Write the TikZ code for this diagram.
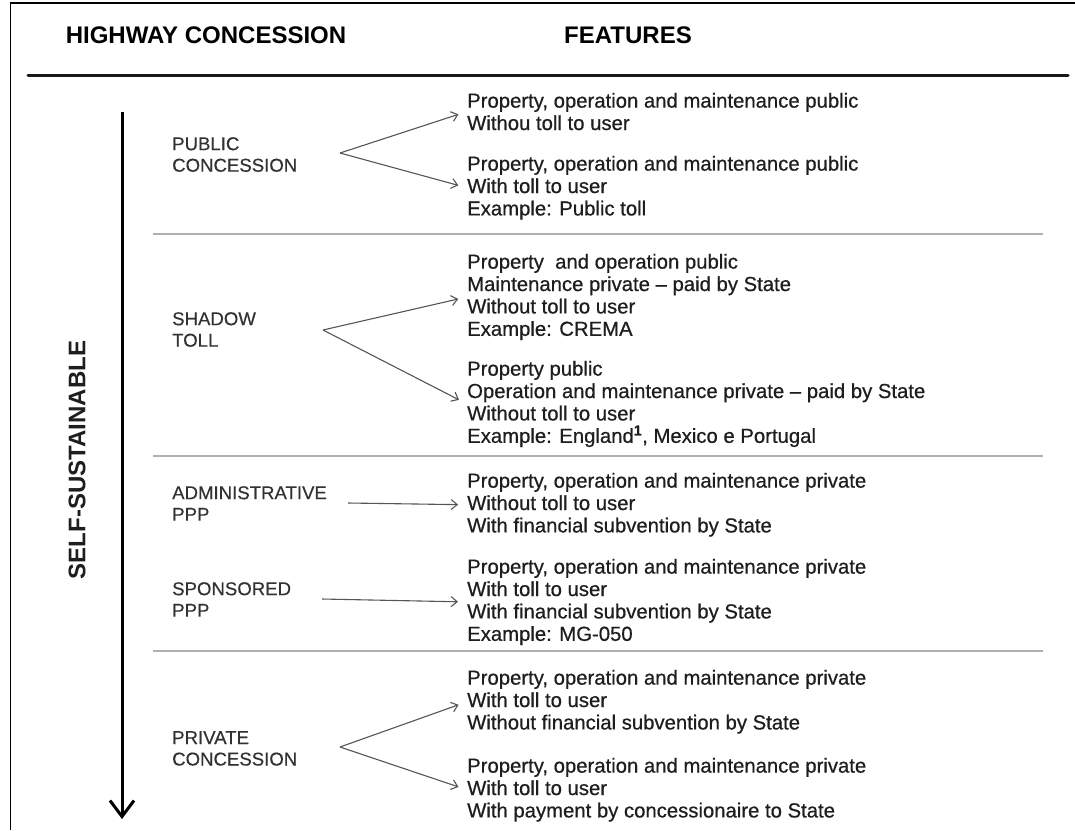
\documentclass[tikz,border=0pt]{standalone}
\usepackage{fontspec}
\setmainfont{Liberation Sans}
\newfontfamily\featfont[Ligatures=TeX,RawFeature={embolden=0.6}]{Liberation Sans}
\newfontfamily\lblfont[Ligatures=TeX,RawFeature={embolden=0.4}]{Liberation Sans}
\usetikzlibrary{arrows.meta}
\definecolor{txtcol}{RGB}{30,30,30}
\definecolor{lblcol}{RGB}{50,50,50}
\definecolor{sepcol}{RGB}{175,175,175}
\definecolor{arrcol}{RGB}{85,85,85}
\begin{document}
\begin{tikzpicture}[x=1pt,y=-1pt,
  feat/.style={anchor=north west, inner sep=0pt, align=left, text=txtcol, font=\featfont\fontsize{20.3}{22.4}\selectfont},
  label/.style={anchor=north west, inner sep=0pt, align=left, text=lblcol, font=\lblfont\fontsize{18.6}{21.5}\selectfont},
  head/.style={anchor=base, inner sep=0pt, text=black, font=\bfseries\fontsize{24}{28}\selectfont},
  conn/.style={draw=arrcol, line width=1.1pt, -{Straight Barb[length=6pt,width=10pt]}, shorten >=9pt},
  sepline/.style={draw=sepcol, line width=1.6pt},
]
\useasboundingbox (0,0) rectangle (1075,830);
% frame
\draw[line width=2pt] (10,2.5) -- (1075,2.5);
\draw[line width=1.4pt] (10.5,2) -- (10.5,830);
% header
\node[head] (h1) at (206,43) {HIGHWAY CONCESSION};
\node[head] (h2) at (628,43) {FEATURES};
\draw[line width=3pt, black!90, line cap=round] (28,75) -- (1068,75);
% separators
\draw[sepline] (153,234) -- (1043,234);
\draw[sepline] (153,456) -- (1043,456);
\draw[sepline] (153,651) -- (1043,651);
% vertical axis
\coordinate (vtop) at (122,112);
\coordinate (vbot) at (122,819);
\draw[line width=3pt, -{Straight Barb[length=16pt,width=24pt]}] (vtop) -- (vbot);
\node[rotate=90, inner sep=0pt, text=txtcol, font=\bfseries\fontsize{24}{28}\selectfont] (ss) at (77,460) {SELF-SUSTAINABLE};
% labels
\node[label] (pubL) at (172,137) {PUBLIC\\CONCESSION};
\node[label] (shaL) at (172,312) {SHADOW\\TOLL};
\node[label] (admL) at (172,486) {ADMINISTRATIVE\\PPP};
\node[label] (spoL) at (172,582) {SPONSORED\\PPP};
\node[label] (priL) at (172,731) {PRIVATE\\CONCESSION};
% features
\node[feat] (pub1) at (467,92.7) {Property, operation and maintenance public\\Withou toll to user};
\node[feat] (pub2) at (467,155.7) {Property, operation and maintenance public\\With toll to user\\Example: Public toll};
\node[feat] (sha1) at (467,253.7) {Property\ \ and operation public\\Maintenance private – paid by State\\Without toll to user\\Example: CREMA};
\node[feat] (sha2) at (467,360.7) {Property public\\Operation and maintenance private – paid by State\\Without toll to user\\Example: England\textsuperscript{\bfseries 1}, Mexico e Portugal};
\node[feat] (adm) at (467,472.7) {Property, operation and maintenance private\\Without toll to user\\With financial subvention by State};
\node[feat] (spo) at (467,558.7) {Property, operation and maintenance private\\With toll to user\\With financial subvention by State\\Example: MG-050};
\node[feat] (pri1) at (467,669.7) {Property, operation and maintenance private\\With toll to user\\Without financial subvention by State};
\node[feat] (pri2) at (467,757.7) {Property, operation and maintenance private\\With toll to user\\With payment by concessionaire to State};
% fork points
\coordinate (pubF) at (340,153);
\coordinate (shaF) at (323,330);
\coordinate (admF) at (348,503);
\coordinate (spoF) at (322,599);
\coordinate (priF) at (340,747);
% connectors
\draw[conn] (pubF) -- (pub1.west);
\draw[conn] (pubF) -- (pub2.west);
\draw[conn] (shaF) -- (sha1.west);
\draw[conn] (shaF) -- (sha2.west);
\draw[conn] (admF) -- (adm.west);
\draw[conn] (spoF) -- (spo.west);
\draw[conn] (priF) -- (pri1.west);
\draw[conn] (priF) -- (pri2.west);
\end{tikzpicture}
\end{document}
